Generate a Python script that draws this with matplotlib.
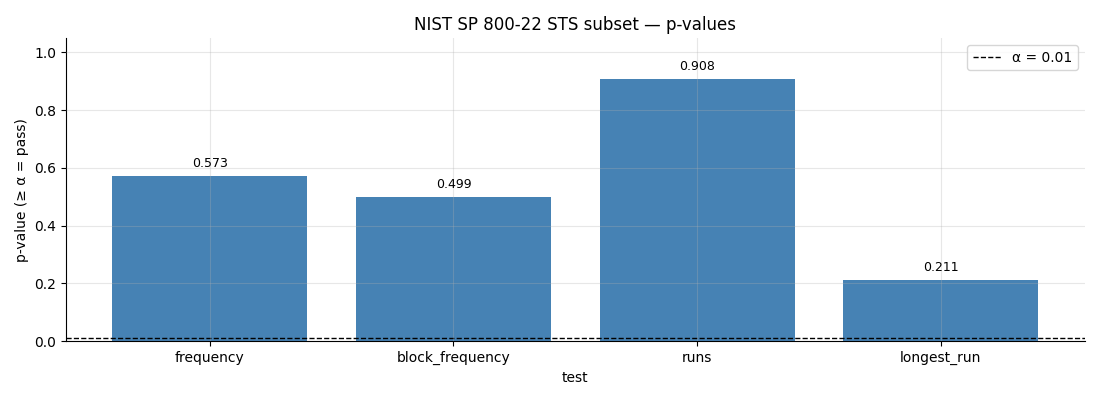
import matplotlib
matplotlib.use("Agg")
import matplotlib.pyplot as plt

tests = ["frequency", "block_frequency", "runs", "longest_run"]
pvalues = [0.573, 0.499, 0.908, 0.211]
alpha = 0.01

fig, ax = plt.subplots(figsize=(11, 4), dpi=100)
fig.subplots_adjust(left=0.06, right=0.986, top=0.905, bottom=0.147)
bars = ax.bar(tests, pvalues, color="steelblue", width=0.8, zorder=1)
for b, v in zip(bars, pvalues):
    ax.text(b.get_x() + b.get_width() / 2, v + 0.02, f"{v:.3f}",
            ha="center", va="bottom", fontsize=9)
ax.axhline(alpha, color="black", linestyle="--", linewidth=1, label=f"α = {alpha}")
ax.set_ylim(0, 1.05)
ax.grid(True, alpha=0.3, zorder=3)
ax.set_axisbelow(False)
for s in ["top", "right"]:
    ax.spines[s].set_visible(False)
ax.set_xlabel("test")
ax.set_ylabel("p-value (≥ α = pass)")
ax.set_title("NIST SP 800-22 STS subset — p-values")
ax.legend(loc="upper right")
fig.savefig("out.png")
